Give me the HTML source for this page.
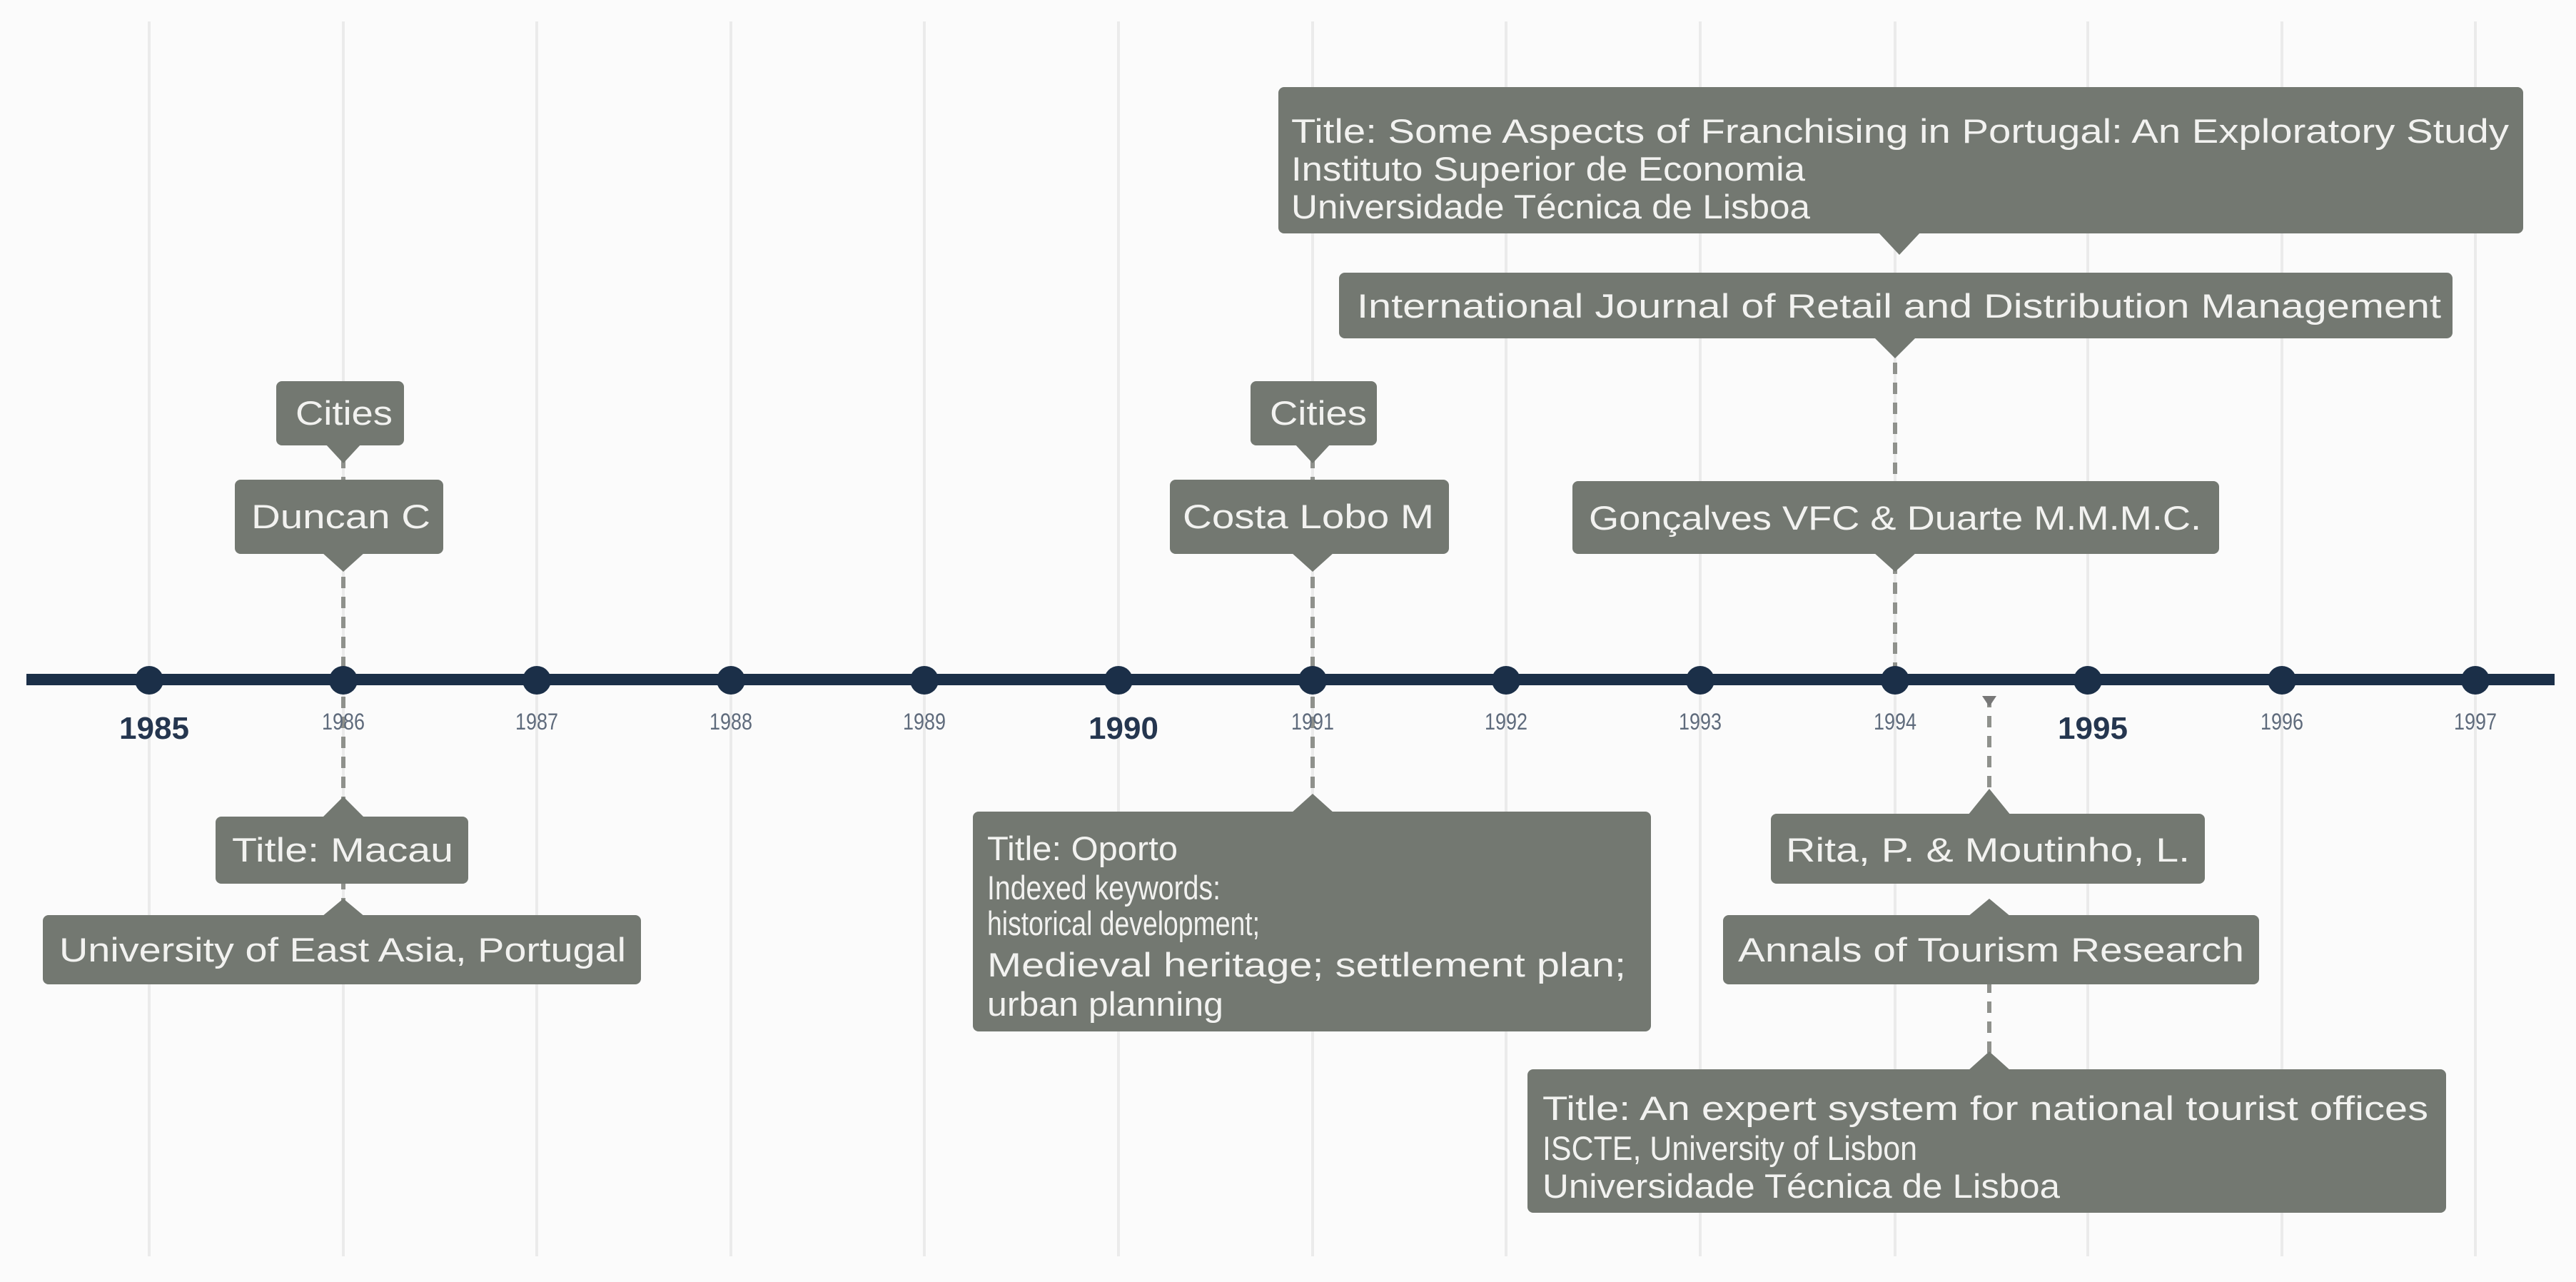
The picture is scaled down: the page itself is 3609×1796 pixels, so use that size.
<!DOCTYPE html>
<html><head><meta charset="utf-8"><style>html,body{margin:0;padding:0;background:#fbfbfb}svg{display:block}</style></head>
<body>
<svg width="3609" height="1796" viewBox="0 0 3609 1796" xmlns="http://www.w3.org/2000/svg" font-family="Liberation Sans, sans-serif">
<rect width="3609" height="1796" fill="#fbfbfb"/>
<g stroke="#ebebeb" stroke-width="4">
<line x1="209" y1="30" x2="209" y2="1760"/><line x1="481" y1="30" x2="481" y2="1760"/><line x1="752" y1="30" x2="752" y2="1760"/><line x1="1024" y1="30" x2="1024" y2="1760"/><line x1="1295" y1="30" x2="1295" y2="1760"/><line x1="1567" y1="30" x2="1567" y2="1760"/><line x1="1839" y1="30" x2="1839" y2="1760"/><line x1="2110" y1="30" x2="2110" y2="1760"/><line x1="2382" y1="30" x2="2382" y2="1760"/><line x1="2655" y1="30" x2="2655" y2="1760"/><line x1="2925" y1="30" x2="2925" y2="1760"/><line x1="3197" y1="30" x2="3197" y2="1760"/><line x1="3468" y1="30" x2="3468" y2="1760"/>
</g>
<g stroke="#8f918c" stroke-width="6" stroke-dasharray="16 12" fill="none">
<line x1="481" y1="640" x2="481" y2="1120"/><line x1="481" y1="1230" x2="481" y2="1265"/>
<line x1="1839" y1="640" x2="1839" y2="1118"/>
<line x1="2655" y1="480" x2="2655" y2="951"/>
<line x1="2787" y1="975" x2="2787" y2="1110"/><line x1="2787" y1="1375" x2="2787" y2="1480"/>
</g>
<polygon points="2777,975 2797,975 2787,990" fill="#777"/>
<rect x="37" y="944" width="3542" height="16" fill="#1b2f48"/>
<g fill="#1b2f48">
<circle cx="209" cy="953" r="20"/><circle cx="481" cy="953" r="20"/><circle cx="752" cy="953" r="20"/><circle cx="1024" cy="953" r="20"/><circle cx="1295" cy="953" r="20"/><circle cx="1567" cy="953" r="20"/><circle cx="1839" cy="953" r="20"/><circle cx="2110" cy="953" r="20"/><circle cx="2382" cy="953" r="20"/><circle cx="2655" cy="953" r="20"/><circle cx="2925" cy="953" r="20"/><circle cx="3197" cy="953" r="20"/><circle cx="3468" cy="953" r="20"/>
</g>
<g font-size="44" font-weight="bold" fill="#25364f" text-anchor="middle">
<text x="216" y="1035">1985</text><text x="1574" y="1035">1990</text><text x="2932" y="1035">1995</text>
</g>
<g font-size="32" fill="#5f6b7c" text-anchor="middle">
<text x="481" y="1022" textLength="60" lengthAdjust="spacingAndGlyphs">1986</text><text x="752" y="1022" textLength="60" lengthAdjust="spacingAndGlyphs">1987</text><text x="1024" y="1022" textLength="60" lengthAdjust="spacingAndGlyphs">1988</text><text x="1295" y="1022" textLength="60" lengthAdjust="spacingAndGlyphs">1989</text><text x="1839" y="1022" textLength="60" lengthAdjust="spacingAndGlyphs">1991</text><text x="2110" y="1022" textLength="60" lengthAdjust="spacingAndGlyphs">1992</text><text x="2382" y="1022" textLength="60" lengthAdjust="spacingAndGlyphs">1993</text><text x="2655" y="1022" textLength="60" lengthAdjust="spacingAndGlyphs">1994</text><text x="3197" y="1022" textLength="60" lengthAdjust="spacingAndGlyphs">1996</text><text x="3468" y="1022" textLength="60" lengthAdjust="spacingAndGlyphs">1997</text>
</g>
<g fill="#737871">
<rect x="387" y="534" width="179" height="90" rx="8"/><polygon points="456,622 506,622 481,649"/>
<rect x="329" y="672" width="292" height="104" rx="8"/><polygon points="451,774 511,774 481,801"/>
<rect x="302" y="1144" width="354" height="94" rx="8"/><polygon points="451,1146 511,1146 481,1116"/>
<rect x="60" y="1282" width="838" height="97" rx="8"/><polygon points="451,1284 511,1284 481,1259"/>
<rect x="1752" y="534" width="177" height="90" rx="8"/><polygon points="1814,622 1864,622 1839,649"/>
<rect x="1639" y="672" width="391" height="104" rx="8"/><polygon points="1809,774 1869,774 1839,801"/>
<rect x="1363" y="1137" width="950" height="308" rx="8"/><polygon points="1809,1139 1869,1139 1839,1112"/>
<rect x="1791" y="122" width="1744" height="205" rx="8"/><polygon points="2631,325 2691,325 2661,357"/>
<rect x="1876" y="382" width="1560" height="92" rx="8"/><polygon points="2625,472 2685,472 2655,502"/>
<rect x="2203" y="674" width="906" height="102" rx="8"/><polygon points="2625,774 2685,774 2655,801"/>
<rect x="2481" y="1140" width="608" height="98" rx="8"/><polygon points="2757,1142 2817,1142 2787,1105"/>
<rect x="2414" y="1282" width="751" height="97" rx="8"/><polygon points="2757,1284 2817,1284 2787,1259"/>
<rect x="2140" y="1498" width="1287" height="201" rx="8"/><polygon points="2757,1500 2817,1500 2787,1473"/>
</g>
<g font-size="47" fill="#f2f2f0">
<text x="414" y="595" textLength="136" lengthAdjust="spacingAndGlyphs">Cities</text>
<text x="352" y="740" textLength="251" lengthAdjust="spacingAndGlyphs">Duncan C</text>
<text x="325" y="1207" textLength="310" lengthAdjust="spacingAndGlyphs">Title: Macau</text>
<text x="83" y="1347" textLength="794" lengthAdjust="spacingAndGlyphs">University of East Asia, Portugal</text>
<text x="1779" y="595" textLength="136" lengthAdjust="spacingAndGlyphs">Cities</text>
<text x="1657" y="740" textLength="352" lengthAdjust="spacingAndGlyphs">Costa Lobo M</text>
<text x="1383" y="1205" textLength="267" lengthAdjust="spacingAndGlyphs">Title: Oporto</text>
<text x="1383" y="1260" textLength="327" lengthAdjust="spacingAndGlyphs">Indexed keywords:</text>
<text x="1383" y="1310" textLength="382" lengthAdjust="spacingAndGlyphs">historical development;</text>
<text x="1383" y="1368" textLength="895" lengthAdjust="spacingAndGlyphs">Medieval heritage; settlement plan;</text>
<text x="1383" y="1423" textLength="331" lengthAdjust="spacingAndGlyphs">urban planning</text>
<text x="1809" y="200" textLength="1706" lengthAdjust="spacingAndGlyphs">Title: Some Aspects of Franchising in Portugal: An Exploratory Study</text>
<text x="1809" y="253" textLength="720" lengthAdjust="spacingAndGlyphs">Instituto Superior de Economia</text>
<text x="1809" y="306" textLength="727" lengthAdjust="spacingAndGlyphs">Universidade Técnica de Lisboa</text>
<text x="1901" y="445" textLength="1519" lengthAdjust="spacingAndGlyphs">International Journal of Retail and Distribution Management</text>
<text x="2226" y="742" textLength="858" lengthAdjust="spacingAndGlyphs">Gonçalves VFC &amp; Duarte M.M.M.C.</text>
<text x="2502" y="1207" textLength="566" lengthAdjust="spacingAndGlyphs">Rita, P. &amp; Moutinho, L.</text>
<text x="2435" y="1347" textLength="709" lengthAdjust="spacingAndGlyphs">Annals of Tourism Research</text>
<text x="2161" y="1569" textLength="1241" lengthAdjust="spacingAndGlyphs">Title: An expert system for national tourist offices</text>
<text x="2161" y="1625" textLength="525" lengthAdjust="spacingAndGlyphs">ISCTE, University of Lisbon</text>
<text x="2161" y="1678" textLength="725" lengthAdjust="spacingAndGlyphs">Universidade Técnica de Lisboa</text>
</g>
</svg>
</body></html>
